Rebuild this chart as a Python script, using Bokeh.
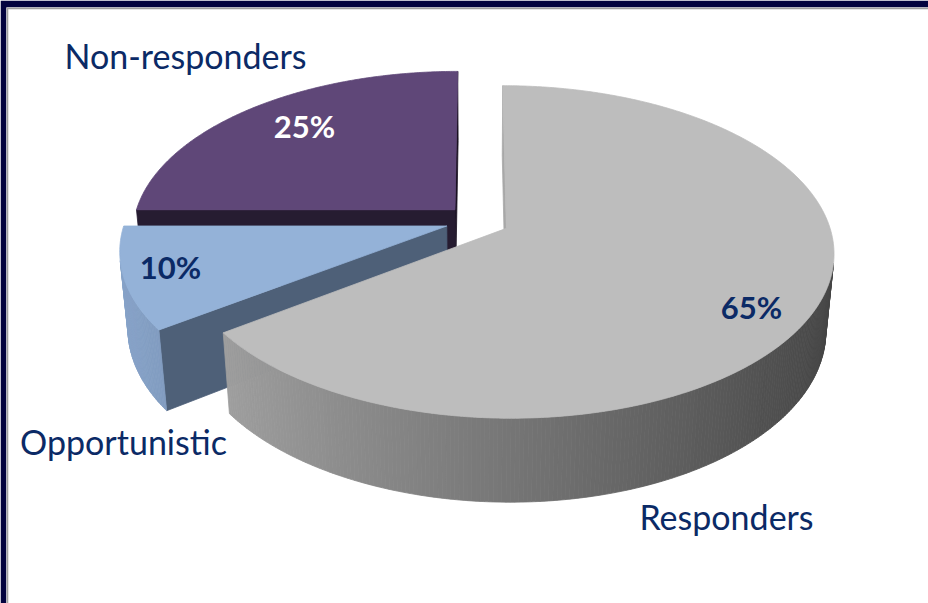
import math
import numpy as np
from bokeh.plotting import figure
from bokeh.models import Range1d, Span, ColumnDataSource
from bokeh.embed import file_html
from bokeh.resources import INLINE
from bokeh.core.properties import value

# ---------------- data ----------------
categories = ["Responders", "Opportunistic", "Non-responders"]
shares = [65, 10, 25]
pct_labels = [f"{s}%" for s in shares]

# ---------------- style ----------------
top_colors = ["#bdbdbd", "#94b2d8", "#5f4778"]
side_light = ["#a8a8a8", "#88a4ca", "#322540"]
side_dark = ["#434343", "#3f4e63", "#1a1222"]
pct_colors = ["#0b2a66", "#0b2a66", "#ffffff"]
TEXT_COLOR = "#0b2a66"
FRAME = "#03033f"

# ---------------- layout ----------------
W, H = 928, 603
BL, BT = 6, 7
X0, X1, Y0, Y1 = BL, W, BT, H              # plot frame in page pixels
CX, CY = 477.0, 220.5                      # projected disc centre
F, DIST = 1975.0, 6.14                     # focal length / camera distance
TILT = math.radians(30)
DEPTH = 0.28
EXPLODE = 0.10
cat_pos = [(726, 516), (123, 441), (185, 55)]    # centre x, baseline y
pct_pos = [(751, 306), (170, 266), (304, 125)]

cosT, sinT = math.cos(TILT), math.sin(TILT)
cam = np.array([0.0, -DIST * cosT, DIST * sinT])


def proj(X, Y, Z):
    X = np.asarray(X, float); Y = np.asarray(Y, float); Z = np.asarray(Z, float)
    yc = Z * cosT + Y * sinT
    d = DIST + Y * cosT - Z * sinT
    return CX + F * X / d, CY - F * yc / d, d


def hex2rgb(h):
    h = h.lstrip("#")
    return np.array([int(h[i:i + 2], 16) for i in (0, 2, 4)], float)


def mix(c_light, c_dark, t):
    a, b = hex2rgb(c_light), hex2rgb(c_dark)
    c = b + (a - b) * max(0.0, min(1.0, t))
    return "#%02x%02x%02x" % tuple(int(round(v)) for v in c)


total = float(sum(shares))
cum = np.concatenate([[0], np.cumsum(shares)]) / total * 360.0

slices = []
for i in range(len(shares)):
    t0, t1 = cum[i], cum[i + 1]
    bis = math.radians((t0 + t1) / 2)
    apex = np.array([EXPLODE * math.sin(bis), EXPLODE * math.cos(bis), 0.0])
    faces = []
    # outer curved side, split in strips for a gradient
    nst = max(int((t1 - t0) * 1.5), 2)
    th = np.radians(np.linspace(t0, t1, nst + 1))
    for j in range(nst):
        ta, tb = th[j], th[j + 1]
        tm = (ta + tb) / 2
        n = np.array([math.sin(tm), math.cos(tm), 0.0])
        P = apex + n
        if np.dot(n, cam - P) <= 0:
            continue
        Xs = apex[0] + np.array([math.sin(ta), math.sin(tb), math.sin(tb), math.sin(ta)])
        Ys = apex[1] + np.array([math.cos(ta), math.cos(tb), math.cos(tb), math.cos(ta)])
        Zs = np.array([0, 0, -DEPTH, -DEPTH])
        sx, sy, d = proj(Xs, Ys, Zs)
        col = mix(side_light[i], side_dark[i], 0.5 - 0.5 * math.sin(tm))
        faces.append((d.mean(), list(sx), list(sy), col))
    # cut faces
    for tdeg, n in ((t0, np.array([-math.cos(math.radians(t0)), math.sin(math.radians(t0)), 0.0])),
                    (t1, np.array([math.cos(math.radians(t1)), -math.sin(math.radians(t1)), 0.0]))):
        if np.dot(n, cam - apex) <= 0:
            continue
        tr = math.radians(tdeg)
        Xs = apex[0] + np.array([0, math.sin(tr), math.sin(tr), 0])
        Ys = apex[1] + np.array([0, math.cos(tr), math.cos(tr), 0])
        Zs = np.array([0, 0, -DEPTH, -DEPTH])
        sx, sy, d = proj(Xs, Ys, Zs)
        col = mix(side_light[i], side_dark[i], 0.5 - 0.5 * n[0])
        faces.append((d.mean(), list(sx), list(sy), col))
    faces.sort(key=lambda f: -f[0])
    # top face
    tt = np.radians(np.linspace(t0, t1, max(int(t1 - t0) * 2, 4)))
    Xs = np.concatenate([[apex[0]], apex[0] + np.sin(tt)])
    Ys = np.concatenate([[apex[1]], apex[1] + np.cos(tt)])
    sx, sy, _ = proj(Xs, Ys, np.zeros_like(Xs))
    faces.append((0, list(sx), list(sy), top_colors[i]))
    slices.append((apex[1], faces))

slices.sort(key=lambda s: -s[0])
xs, ys, cols = [], [], []
for _, faces in slices:
    for _, fx, fy, c in faces:
        xs.append(fx); ys.append(fy); cols.append(c)

p = figure(width=W, height=H, x_range=Range1d(X0, X1), y_range=Range1d(Y1, Y0),
           output_backend="svg", toolbar_location=None,
           x_axis_location=None, y_axis_location=None,
           min_border_left=BL, min_border_top=BT, min_border_right=0, min_border_bottom=0,
           border_fill_color=FRAME, background_fill_color="white", outline_line_color=None)
p.grid.visible = False

src = ColumnDataSource(dict(xs=xs, ys=ys, c=cols))
p.patches("xs", "ys", source=src, fill_color="c", line_color="c", line_width=0.8)

p.add_layout(Span(location=X0 + 0.8, dimension="height", line_color="#a0a0a0", line_width=2))
p.add_layout(Span(location=Y0 + 0.8, dimension="width", line_color="#a0a0a0", line_width=2))

p.text(x=[c[0] for c in cat_pos], y=[c[1] for c in cat_pos], text=categories,
       text_font=value("Lato"), text_font_size="34px", text_color=TEXT_COLOR,
       text_align="center", text_baseline="alphabetic")
p.text(x=[c[0] for c in pct_pos], y=[c[1] for c in pct_pos], text=pct_labels,
       text_font=value("Lato"), text_font_size="31px", text_font_style="bold",
       text_color=pct_colors, text_align="center", text_baseline="alphabetic")

open("out.html", "w").write(file_html(p, INLINE))
